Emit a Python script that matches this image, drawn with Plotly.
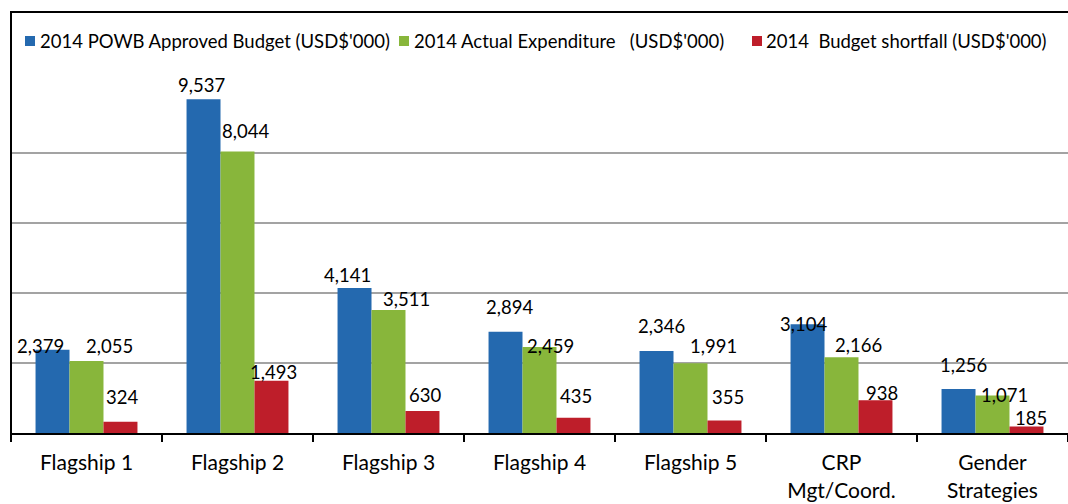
import plotly.graph_objects as go

categories = ["Flagship 1", "Flagship 2", "Flagship 3", "Flagship 4", "Flagship 5",
              "CRP<br>Mgt/Coord.", "Gender<br>Strategies"]
approved = [2379, 9537, 4141, 2894, 2346, 3104, 1256]
actual = [2055, 8044, 3511, 2459, 1991, 2166, 1071]
shortfall = [324, 1493, 630, 435, 355, 938, 185]
series_names = ["2014 POWB Approved Budget (USD$'000)",
                "2014 Actual Expenditure\u00a0\u00a0\u00a0(USD$'000)",
                "2014\u00a0\u00a0Budget shortfall (USD$'000)"]
colors = ["#2469AF", "#88B63B", "#BE1E2A"]

# data-label placement (pixel offsets from category centre / bar top), as in the reference
label_dx = [
    [-46, -36, -41, -30, -29, -38, -29],
    [23, 8, 18, 11, 23, 17, 12],
    [35, 36, 36, 36, 37, 40, 38],
]
label_dy = [
    [3, 13, 12, 24, 24, -1, 23],
    [14, 19, 10, 0, 16, 11, 0],
    [24, 8, 15, 21, 23, 6, 8],
]

FONT = "Lato"

# plot area in pixels
PL, PT, PB, PW = 11, 83, 433, 1057
PH = PB - PT


def px_x(px):
    return (px - PL) / PW


def px_y(py):
    return (PB - py) / PH


fig = go.Figure()
for name, vals, col in zip(series_names, [approved, actual, shortfall], colors):
    fig.add_trace(go.Bar(
        x=categories, y=vals, name=name,
        marker=dict(color=col, line=dict(width=0)),
        showlegend=False, hoverinfo="x+y+name",
    ))

for vals, dxs, dys in zip([approved, actual, shortfall], label_dx, label_dy):
    for cat, v, dx, dy in zip(categories, vals, dxs, dys):
        fig.add_annotation(x=cat, y=v, xref="x", yref="y", text=f"{v:,}",
                           showarrow=False, xanchor="center", yanchor="middle",
                           xshift=dx, yshift=dy + 1,
                           font=dict(family=FONT, size=18.5, color="#000000"))

fig.update_layout(
    width=1068, height=504,
    margin=dict(l=PL, r=1068 - PL - PW, t=PT, b=504 - PB, autoexpand=False),
    paper_bgcolor="white", plot_bgcolor="white",
    barmode="group", bargap=0.325, bargroupgap=0,
    font=dict(family=FONT, size=19, color="#000000"),
    showlegend=False,
)
fig.update_xaxes(showline=True, linecolor="#000000", linewidth=2,
                 ticks="outside", tickson="boundaries", ticklen=7, tickwidth=2,
                 tickcolor="#000000", tickfont=dict(family=FONT, size=21),
                 ticklabelstandoff=10,
                 showgrid=False, fixedrange=True, automargin=False)
fig.update_yaxes(range=[0, 10000], dtick=2000, showgrid=True, gridcolor="#A3A3A3",
                 gridwidth=2, showticklabels=False, zeroline=False, showline=False,
                 fixedrange=True, automargin=False)

# chart frame (top border and left axis line)
fig.add_shape(type="line", xref="paper", yref="paper", x0=px_x(10), x1=px_x(1070),
              y0=px_y(12), y1=px_y(12), line=dict(color="#000000", width=2))
fig.add_shape(type="line", xref="paper", yref="paper", x0=px_x(11), x1=px_x(11),
              y0=px_y(12), y1=px_y(440), line=dict(color="#000000", width=2))

# legend drawn as squares + text
legend_sq = [25, 399, 752]
legend_tx = [38, 412, 764]
for name, col, sx, tx in zip(series_names, colors, legend_sq, legend_tx):
    fig.add_shape(type="rect", xref="paper", yref="paper",
                  x0=px_x(sx), x1=px_x(sx + 10), y0=px_y(36), y1=px_y(46),
                  fillcolor=col, line=dict(width=0))
    fig.add_annotation(xref="paper", yref="paper", x=px_x(tx), y=px_y(41),
                       xanchor="left", yanchor="middle", showarrow=False,
                       text=name, font=dict(family=FONT, size=18.5, color="#000000"))

fig.write_html("out.html", config={"displayModeBar": False},
               post_script="document.body.style.margin='0';")
